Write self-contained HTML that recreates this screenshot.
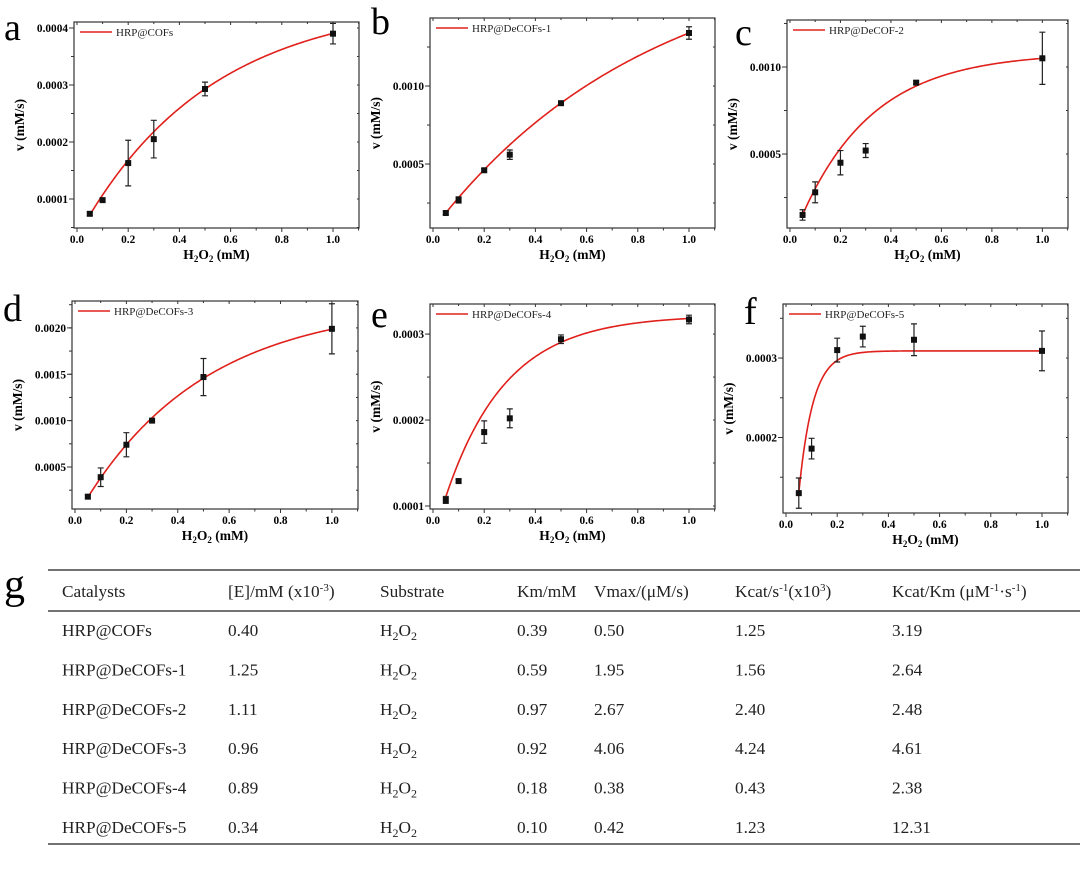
<!DOCTYPE html>
<html><head><meta charset="utf-8">
<style>
body{margin:0;background:#fff;}
svg{display:block;font-family:"Liberation Serif",serif;}
.tk{font-size:11.3px;font-weight:bold;}
.ttl{font-size:13.5px;font-weight:bold;}
.tb{font-size:17.3px;}
</style></head>
<body>
<svg id="fig" width="1080" height="883" viewBox="0 0 1080 883" xmlns="http://www.w3.org/2000/svg"></svg>
<script>
// ---- data ----
const xValues = [0.05, 0.1, 0.2, 0.3, 0.5, 1.0];
const panelNames = ["HRP@COFs","HRP@DeCOFs-1","HRP@DeCOF-2","HRP@DeCOFs-3","HRP@DeCOFs-4","HRP@DeCOFs-5"];
const panelLetters = ["a","b","c","d","e","f"];
const yA = [0.000074,0.000098,0.000163,0.000205,0.000293,0.00039];
const eA = [0.000003,0.000002,0.00004,0.000033,0.000012,0.000018];
const yB = [0.000186,0.00027,0.00046,0.00056,0.00089,0.00134];
const eB = [0.00001,0.00002,0.00001,0.00003,0.00001,0.00004];
const yC = [0.00015,0.00028,0.00045,0.00052,0.00091,0.00105];
const eC = [0.00003,0.00006,0.00007,0.00004,0.00001,0.00015];
const yD = [0.00018,0.00039,0.00074,0.00100,0.00147,0.00199];
const eD = [0.00002,0.0001,0.00013,0.00001,0.0002,0.00027];
const yE = [0.000107,0.000129,0.000186,0.000202,0.000294,0.000317];
const eE = [0.000004,0.000002,0.000013,0.000011,0.000005,0.000005];
const yF = [0.00013,0.000186,0.00031,0.000327,0.000323,0.000309];
const eF = [0.000019,0.000013,0.000015,0.000013,0.00002,0.000025];
// fitted exponential-association parameters y = A - B*exp(-x/t)
const fitA = [0.000449,0.00190,0.001083,0.00227,0.000322,0.000309];
const fitB = [0.000416,0.001817,0.001111,0.00233,0.000261,0.00044];
const fitT = [0.51,0.85,0.285,0.475,0.237,0.0555];
const yMajorTicks = [[0.0001,0.0002,0.0003,0.0004],[0.0005,0.0010],[0.0005,0.0010],[0.0005,0.0010,0.0015,0.0020],[0.0001,0.0002,0.0003],[0.0002,0.0003]];
const yTickLabels = [["0.0001","0.0002","0.0003","0.0004"],["0.0005","0.0010"],["0.0005","0.0010"],["0.0005","0.0010","0.0015","0.0020"],["0.0001","0.0002","0.0003"],["0.0002","0.0003"]];
const yMinorStep = [0.00005,0.00025,0.00025,0.00025,0.00005,0.00005];
const yDomains = [[0.0000491,0.0004105],[0.00009,0.001436],[0.000075,0.00127],[0.000047,0.00229],[0.0000965,0.000335],[0.000105,0.000368]];
const xTicks = [0,0.2,0.4,0.6,0.8,1.0];
const xTickLabels = ["0.0","0.2","0.4","0.6","0.8","1.0"];
const ySeries=[yA,yB,yC,yD,yE,yF], eSeries=[eA,eB,eC,eD,eE,eF];
// layout
const boxes=[[74,22,285,206],[430,18,285,210],[787,20,281,208],[72,301,286,208],[430,304,285,205],[783,304,285,209]];
const letterPos=[[4,40],[371,34],[735,45],[3,321],[371,327],[744,324]];
const NS="http://www.w3.org/2000/svg";
const svg=document.getElementById('fig');
function mk(t,a,p){const e=document.createElementNS(NS,t);for(const k in a)e.setAttribute(k,a[k]);(p||svg).appendChild(e);return e;}
for(let i=0;i<6;i++){
  const [bx,by,bw,bh]=boxes[i];
  const g=mk('g',{});
  
  
  const xd=[-0.0117,1.1016], yd=yDomains[i];
  const sx=v=>bx+(v-xd[0])/(xd[1]-xd[0])*bw;
  const sy=v=>by+bh-(v-yd[0])/(yd[1]-yd[0])*bh;
  const fr=mk('rect',{x:bx,y:by,width:bw,height:bh,fill:'none',stroke:'#333','stroke-width':1.2},g);
  
  
  for(let v=0;v<=1.1001;v+=0.1){const X=sx(v);const maj=Math.abs(v*10%2)<0.01||Math.abs(v*10%2-2)<0.01;
    mk('line',{x1:X,y1:by+bh,x2:X,y2:by+bh+(maj?4:2.5),stroke:'#333'},g);
    mk('line',{x1:X,y1:by,x2:X,y2:by+(maj?3:2),stroke:'#333'},g);}
  xTicks.forEach((v,k)=>{const t=mk('text',{x:sx(v),y:by+bh+15,'text-anchor':'middle',class:'tk'},g);t.textContent=xTickLabels[k];
    });
  const st=yMinorStep[i];
  for(let v=Math.ceil(yd[0]/st)*st;v<=yd[1];v+=st){const Y=sy(v);
    mk('line',{x1:bx,y1:Y,x2:bx-3,y2:Y,stroke:'#333'},g);
    mk('line',{x1:bx+bw,y1:Y,x2:bx+bw-2,y2:Y,stroke:'#333'},g);}
  yMajorTicks[i].forEach((v,k)=>{const Y=sy(v);mk('line',{x1:bx,y1:Y,x2:bx-5,y2:Y,stroke:'#333'},g);
    const t=mk('text',{x:bx-6,y:Y+4,'text-anchor':'end',class:'tk'},g);t.textContent=yTickLabels[i][k];
    });
  const xt=mk('text',{x:bx+bw/2,y:by+bh+31,'text-anchor':'middle',class:'ttl'},g);
  xt.innerHTML='H<tspan font-size="9" dy="3">2</tspan><tspan dy="-3">O</tspan><tspan font-size="9" dy="3">2</tspan><tspan dy="-3"> (mM)</tspan>';
  
  const yx=bx-50, yy=by+bh/2;
  const yt=mk('text',{x:yx,y:yy,'text-anchor':'middle',class:'ttl',transform:`rotate(-90 ${yx} ${yy})`},g);
  yt.textContent='v (mM/s)';
  
  const lt=mk('text',{x:letterPos[i][0],y:letterPos[i][1],'font-size':38},g);lt.textContent=panelLetters[i];
  
  let d='';for(let k=0;k<=200;k++){const x=0.05+0.95*k/200;const y=fitA[i]-fitB[i]*Math.exp(-x/fitT[i]);d+=(k?'L':'M')+sx(x).toFixed(2)+','+sy(y).toFixed(2);}
  const c=mk('path',{d:d,fill:'none',stroke:'#e0201b','stroke-width':1.6},g);
  
  xValues.forEach((x,k)=>{const X=sx(x),Y=sy(ySeries[i][k]),e=eSeries[i][k];
    const y1=sy(ySeries[i][k]+e),y2=sy(ySeries[i][k]-e);
    const eb=mk('path',{d:`M${X},${y1}L${X},${y2}M${X-3},${y1}L${X+3},${y1}M${X-3},${y2}L${X+3},${y2}`,stroke:'#222','stroke-width':1.2,fill:'none'},g);
    
    const p=mk('rect',{x:X-3,y:Y-3,width:6,height:6,fill:'#111'},g);
    });
  const lg=mk('g',{},g);
  
  mk('line',{x1:bx+6,y1:by+10,x2:bx+38,y2:by+10,stroke:'#e0201b','stroke-width':1.6},lg);
  const ltx=mk('text',{x:bx+42,y:by+14,'font-size':11,fill:'#222'},lg);ltx.textContent=panelNames[i];
}
// ---- table ----
const tableHeaders=['Catalysts','[E]/mM (x10<tspan font-size="11" dy="-6">-3</tspan><tspan dy="6">)</tspan>','Substrate','Km/mM','Vmax/(μM/s)','Kcat/s<tspan font-size="11" dy="-6">-1</tspan><tspan dy="6">(x10</tspan><tspan font-size="11" dy="-6">3</tspan><tspan dy="6">)</tspan>','Kcat/Km (μM<tspan font-size="11" dy="-6">-1</tspan><tspan dy="6">·s</tspan><tspan font-size="11" dy="-6">-1</tspan><tspan dy="6">)</tspan>'];
const enzymeConc=['0.40','1.25','1.11','0.96','0.89','0.34'];
const kmVals=['0.39','0.59','0.97','0.92','0.18','0.10'];
const vmaxVals=['0.50','1.95','2.67','4.06','0.38','0.42'];
const kcatVals=['1.25','1.56','2.40','4.24','0.43','1.23'];
const kcatKmVals=['3.19','2.64','2.48','4.61','2.38','12.31'];
const colX=[62,228,380,517,594,735,892];
const tg=mk('g',{});

const gl=mk('text',{x:4,y:598,'font-size':42},tg);gl.textContent='g';

[[570,1.6],[611,1.6],[844,1.4]].forEach(([y,w])=>{const l=mk('line',{x1:48,y1:y,x2:1080,y2:y,stroke:'#444','stroke-width':w},tg);
  });
tableHeaders.forEach((h,k)=>{const t=mk('text',{x:colX[k],y:597,class:'tb',fill:'#222'},tg);t.innerHTML=h;
  });
panelNames.forEach((n,r)=>{const y=636+r*39.4;
  const cells=[n==='HRP@DeCOF-2'?'HRP@DeCOFs-2':n,enzymeConc[r],'H<tspan font-size="12" dy="4">2</tspan><tspan dy="-4">O</tspan><tspan font-size="12" dy="4">2</tspan>',kmVals[r],vmaxVals[r],kcatVals[r],kcatKmVals[r]];
  cells.forEach((c,k)=>{const t=mk('text',{x:colX[k],y:y,class:'tb',fill:'#222'},tg);t.innerHTML=c;
    });
});
</script>
</body></html>
